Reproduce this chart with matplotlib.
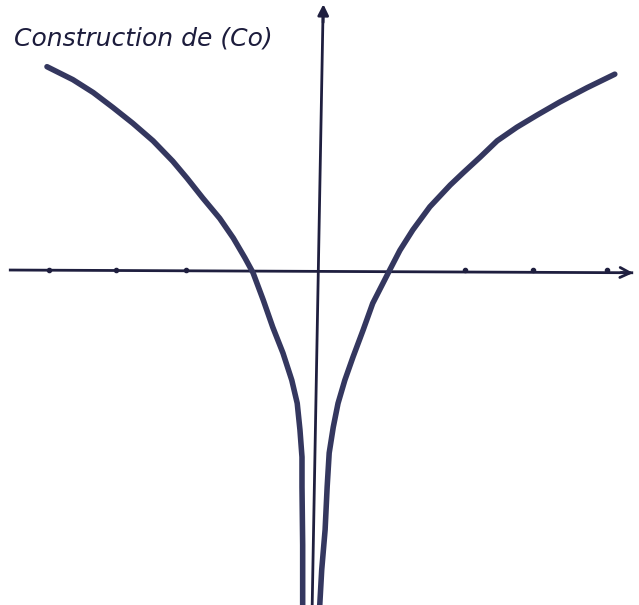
import matplotlib.pyplot as plt

# Data (x unit = 1 graduation)
left_x = [-4.00, -3.62, -3.32, -3.03, -2.74, -2.44, -2.15, -1.94, -1.71, -1.46, -1.26, -1.09, -0.97,
          -0.82, -0.68, -0.53, -0.40, -0.32, -0.28, -0.25, -0.25, -0.24, -0.24]
left_y = [2.99, 2.80, 2.61, 2.39, 2.16, 1.90, 1.60, 1.35, 1.06, 0.76, 0.47, 0.18, -0.04,
          -0.44, -0.84, -1.22, -1.62, -1.96, -2.35, -2.75, -3.19, -4.04, -4.95]

right_x = [4.35, 3.94, 3.54, 3.21, 2.91, 2.62, 2.37, 2.12, 1.93, 1.63, 1.38, 1.19, 1.04,
           0.79, 0.65, 0.50, 0.38, 0.28, 0.21, 0.15, 0.12, 0.09, 0.04, 0.01]
right_y = [2.88, 2.68, 2.47, 2.28, 2.10, 1.90, 1.66, 1.43, 1.25, 0.93, 0.59, 0.29, 0.00,
           -0.49, -0.88, -1.28, -1.62, -1.96, -2.31, -2.69, -3.19, -3.82, -4.41, -4.95]

tick_x = [-3.97, -2.99, -1.96, 2.15, 3.15, 4.24]

title = "Construction de (Co)"

fig = plt.figure(figsize=(6.39, 6.05), dpi=100)
ax = fig.add_axes([0, 0, 1, 1])
ax.set_xlim(-4.691, 4.706)
ax.set_ylim(-4.926, 3.971)
ax.axis('off')

axis_col = "#1f1f3f"
curve_col = "#34375f"

# axes drawn by hand
ax.plot([-4.54, 4.60], [0, -0.04], color=axis_col, lw=2)
ax.annotate("", xy=(4.66, -0.045), xytext=(4.4, -0.035),
            arrowprops=dict(arrowstyle="->", color=axis_col, lw=2, mutation_scale=18))
ax.plot([-0.10, 0.06], [-4.93, 3.82], color=axis_col, lw=2)
ax.annotate("", xy=(0.065, 3.95), xytext=(0.06, 3.6),
            arrowprops=dict(arrowstyle="-|>", color=axis_col, lw=2, mutation_scale=16))

ax.plot(tick_x, [0] * len(tick_x), 'o', color=axis_col, ms=3)

ax.plot(left_x, left_y, color=curve_col, lw=4, solid_capstyle='round', solid_joinstyle='round')
ax.plot(right_x, right_y, color=curve_col, lw=4, solid_capstyle='round', solid_joinstyle='round')

ax.text(-4.48, 3.41, title, fontsize=18, color="#1c1c3c", va='center', ha='left', fontstyle='italic')

plt.savefig("out.png", dpi=100)
